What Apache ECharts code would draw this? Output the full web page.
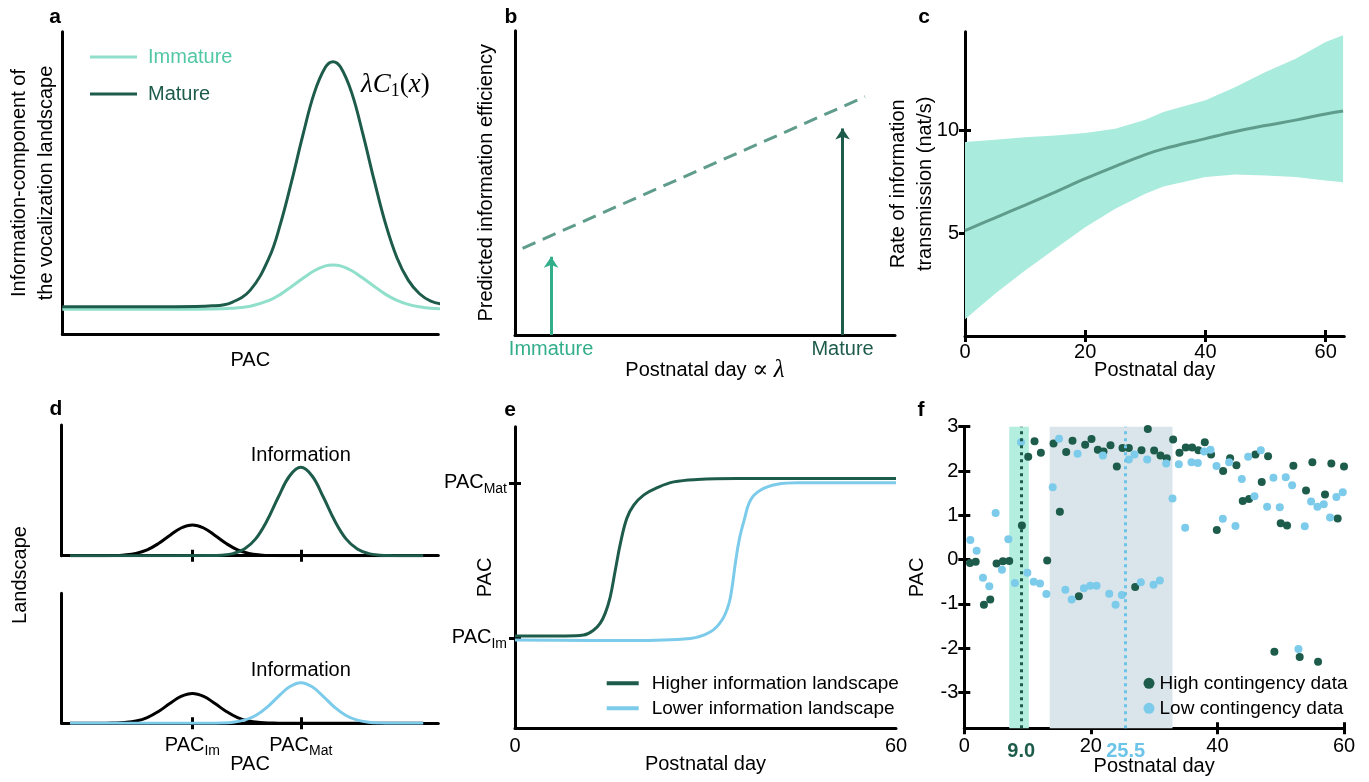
<!DOCTYPE html>
<html>
<head>
<meta charset="utf-8">
<title>Vocal development: information landscape</title>
<script src="https://cdn.jsdelivr.net/npm/echarts@6/dist/echarts.min.js"></script>
<style>
  html, body { margin: 0; padding: 0; background: #fff; }
  #main { width: 1369px; height: 782px; }
</style>
</head>
<body>
<div id="main"></div>
<script>
// ---------- data ----------
// a: information component of the landscape along PAC (arbitrary units)
const aPac      = [0, 10, 20, 30, 40, 45, 50, 55, 58, 61, 64, 67, 70, 72, 74, 77, 80, 83, 86, 89, 92, 95, 98, 102];
const aImmature = [8.3, 8.3, 8.3, 8.3, 8.35, 8.6, 9.3, 11.2, 13.2, 15.8, 18.5, 21.0, 22.6, 22.9, 22.6, 21.0, 18.5, 15.8, 13.2, 11.2, 9.9, 9.1, 8.6, 8.4];
const aMature   = [9.1, 9.1, 9.1, 9.1, 9.4, 10.5, 14.6, 25.3, 36.4, 50.6, 65.9, 79.7, 88.3, 90.1, 88.3, 79.7, 65.9, 50.6, 36.4, 25.3, 17.9, 13.4, 11.0, 9.7];

// b: predicted efficiency vs. postnatal day (schematic units)
const bDay        = [2.0, 92.1];
const bEfficiency = [28.5, 78.3];
const bStageNames = ['Immature', 'Mature'];
const bStageDay   = [9.5, 86.2];
const bStageTip   = [25.7, 67.9];

// c: rate of information transmission (nat/s)
const cDay   = [0, 5, 10, 15, 20, 25, 30, 33, 40, 45, 50, 55, 60, 62.9];
const cMean  = [5.13, 5.75, 6.37, 7.0, 7.65, 8.25, 8.82, 9.1, 9.6, 9.95, 10.24, 10.5, 10.8, 10.94];
const cUpper = [9.43, 9.55, 9.67, 9.75, 9.87, 10.08, 10.52, 10.89, 11.46, 12.11, 12.84, 13.49, 14.3, 14.63];
const cLower = [0.82, 2.05, 3.18, 4.24, 5.29, 6.19, 6.92, 7.27, 7.73, 7.86, 7.81, 7.73, 7.56, 7.48];

// d: landscapes (immature bump + information bump)
const dPacMarks   = [34.7, 63.5];
const dPacIm      = [2.2, 10.7, 13.7, 16.7, 19.7, 22.7, 25.7, 28.7, 31.7, 34.7, 37.7, 40.7, 43.7, 46.7, 49.7, 52.7, 55.7, 58.7, 96];
const dPacMat     = [2.2, 39.5, 42.5, 45.5, 48.5, 51.5, 54.5, 57.5, 60.5, 63.5, 66.5, 69.5, 72.5, 75.5, 78.5, 81.5, 84.5, 87.5, 96];
const dBaseHigh   = [0, 0, 0.1, 0.6, 1.8, 4.5, 9.3, 15.5, 21.2, 23.5, 21.2, 15.5, 9.3, 4.5, 1.8, 0.6, 0.1, 0, 0];
const dInfoHigh   = [0, 0.1, 0.4, 1.6, 5.1, 12.9, 26.7, 44.7, 61.0, 67.6, 61.0, 44.7, 26.7, 12.9, 5.1, 1.6, 0.4, 0.1, 0];
const dBaseLow    = [0, 0, 0.2, 0.6, 1.7, 4.4, 9.1, 15.2, 20.7, 23.0, 20.7, 15.2, 9.1, 4.4, 1.7, 0.6, 0.2, 0, 0];
const dInfoLow    = [0, 0, 0.2, 0.8, 2.4, 6.0, 12.3, 20.6, 28.1, 31.2, 28.1, 20.6, 12.3, 6.0, 2.4, 0.8, 0.2, 0, 0];

// e: PAC trajectories
const ePacMarks = [30, 81.4];
const eDayHigh  = [0, 8, 10.8, 12.4, 13.4, 14.2, 15.0, 15.8, 16.6, 17.6, 18.7, 20.3, 22.4, 25.0, 28.7, 35, 60];
const eHigh     = [30.6, 30.6, 30.9, 32.6, 34.8, 38.1, 43.6, 52.5, 61.3, 69.6, 74.0, 77.4, 79.8, 81.7, 82.5, 82.8, 82.8];
const eDayLow   = [0, 18.2, 27.6, 30.8, 32.6, 33.7, 34.2, 34.7, 35.3, 36.1, 37.1, 38.7, 41.3, 44.5, 60];
const eLow      = [29.3, 29.1, 29.8, 32.0, 35.9, 41.4, 47.0, 54.7, 62.4, 69.1, 75.7, 79.0, 80.9, 81.4, 81.4];

// f: observed PAC per day
const fHighDay = [0.9, 1.8, 3.1, 4.1, 5.1, 6.1, 7.1, 9.1, 10.1, 11.1, 12.1, 13.1, 14.1, 15.1, 16.1, 17.1, 18.1, 19.1, 20.1, 21.1, 22, 23.1, 24.1, 25, 26, 27, 28, 29, 30, 31, 32, 33, 34, 35, 36, 37, 38, 39, 39.9, 40.9, 42, 43, 44, 45, 46, 47, 48, 49, 50, 51, 52, 53, 54, 55, 55.9, 57, 58, 59, 60];
const fHighPac = [-0.08, -0.05, -1.02, -0.9, -0.09, -0.04, -0.03, 0.77, 2.32, 2.67, 2.41, -0.02, 2.62, 1.08, 2.43, 2.68, -0.83, 2.59, 2.72, 2.48, 2.44, 2.58, 2.1, 2.52, 2.52, -0.62, 2.47, 2.95, 2.46, 2.35, 2.29, 2.71, 2.41, 2.53, 2.53, 2.47, 2.65, 2.37, 0.67, 2.0, 2.29, 2.13, 1.32, 1.37, 2.37, 1.75, 2.33, -2.08, 0.82, 0.77, 2.12, -2.2, 1.56, 2.2, -2.31, 1.47, 2.17, 0.93, 2.1];
const fLowDay  = [0.95, 1.95, 2.95, 3.95, 4.95, 5.95, 6.96, 8, 8.96, 9.96, 10.96, 11.96, 12.97, 13.97, 14.97, 15.97, 16.97, 17.9, 18.9, 19.9, 20.9, 21.9, 22.9, 23.9, 24.9, 26, 26.9, 27.9, 28.9, 29.9, 30.9, 31.9, 32.9, 33.9, 34.9, 35.9, 36.9, 37.9, 38.9, 39.85, 40.85, 41.85, 42.85, 43.85, 44.85, 45.85, 46.85, 47.85, 48.85, 49.85, 50.8, 51.8, 52.8, 53.8, 54.8, 55.8, 56.8, 57.8, 58.8, 59.8];
const fLowPac  = [0.44, 0.2, -0.41, -0.6, 1.05, -0.23, 0.46, -0.53, 2.65, -0.3, -0.5, -0.54, -0.78, 1.63, 2.73, -0.68, -0.9, 2.39, -0.65, -0.59, -0.59, 2.35, -0.77, -1.02, -0.8, 2.26, 2.37, -0.51, 2.26, -0.57, -0.47, 2.17, 1.38, 2.15, 0.72, 2.2, 2.18, 2.44, 2.48, 2.11, 0.92, 2.2, 0.76, 1.82, 2.32, 1.43, 2.47, 1.19, 1.85, 1.18, 1.86, 1.68, -2.02, 0.75, 1.31, 1.19, 1.25, 0.95, 1.41, 1.52];
const fHighWindow = [7.1, 10.2];
const fLowWindow  = [13.5, 32.9];
const fOnsets     = [9.0, 25.5];
const fTicksX     = [0, 20, 40, 60];
const fTicksY     = [-3, -2, -1, 0, 1, 2, 3];

// ---------- styles ----------
const FONT = '"Liberation Sans", Arial, Helvetica, sans-serif';
const SERIF = '"Liberation Serif", "DejaVu Serif", serif';
const DARK = '#1d5b4b';
const LIGHT = '#7ccbea';
const LIGHT_TEXT = '#6cc4e8';
const TEAL_LINE = '#8fdfcb';
const TEAL_TEXT = '#52c7a5';
const TEAL_MID = '#33ae8b';
const MEAN = '#5f9c8c';
const BAND = '#a9ebdc';
const baseText = { color: '#000', fontSize: 20, fontFamily: FONT };
const zip = (xs, ys) => xs.map((x, i) => [x, ys[i]]);

const grid = [], xAxis = [], yAxis = [], series = [], graphic = [], legend = [];

function gridAt(left, top, right, bottom) {
  grid.push({ left, top, width: right - left, height: bottom - top, containLabel: false, outerBoundsMode: 'none' });
  return grid.length - 1;
}
function axis(list, gi, opt) {
  list.push(Object.assign({
    type: 'value', gridIndex: gi,
    splitLine: { show: false },
    axisLine: { show: true, onZero: false, lineStyle: { color: '#000', width: 3 } },
    axisTick: { show: false },
    axisLabel: { show: false },
    nameMoveOverlap: false,
    nameTextStyle: Object.assign({}, baseText)
  }, opt));
  return list.length - 1;
}
function ticks(vals, inside) {
  return { show: true, inside, length: 6, customValues: vals, lineStyle: { color: '#000', width: 3 } };
}
function labels(vals, extra) {
  return Object.assign({ show: true, customValues: vals }, baseText, extra || {});
}
// second axis on the same grid carrying the inward half of ticks that cross the axis line
function innerTicks(list, gi, min, max, pos, vals, extra) {
  return axis(list, gi, Object.assign({ min, max, position: pos, axisLine: { show: false, onZero: false },
    axisTick: ticks(vals, true) }, extra || {}));
}
function letter(ch, x, y) {
  graphic.push({ type: 'text', x, y, silent: true,
    style: { text: ch, fill: '#000', fontSize: 21, fontWeight: 'bold', fontFamily: FONT, align: 'center', verticalAlign: 'middle' } });
}
const subRich = {
  b: { fontSize: 20, fontFamily: FONT, color: '#000', lineHeight: 26 },
  s: { fontSize: 14, fontFamily: FONT, color: '#000', verticalAlign: 'bottom' }
};

// ---------- a ----------
const gA = gridAt(62.3, 31.7, 438.3, 334.3);
const xa = axis(xAxis, gA, { min: 0, max: 100, position: 'bottom', name: 'PAC', nameLocation: 'middle', nameGap: 16 });
const ya = axis(yAxis, gA, { min: 0, max: 100, position: 'left',
  name: 'Information-component of\nthe vocalization landscape', nameLocation: 'middle', nameGap: 2,
  nameTextStyle: Object.assign({}, baseText, { lineHeight: 27 }) });
series.push({ name: 'Immature', type: 'line', xAxisIndex: xa, yAxisIndex: ya, data: zip(aPac, aImmature),
  smooth: 0.4, symbol: 'none', clip: false, lineStyle: { width: 3, color: TEAL_LINE }, itemStyle: { color: TEAL_LINE }, z: 3 });
series.push({ name: 'Mature', type: 'line', xAxisIndex: xa, yAxisIndex: ya, data: zip(aPac, aMature),
  smooth: 0.4, symbol: 'none', clip: false, lineStyle: { width: 3, color: DARK }, itemStyle: { color: DARK }, z: 4 });
legend.push({ orient: 'vertical', left: 90, top: 47, padding: 0, itemGap: 17, icon: 'rect', itemWidth: 47, itemHeight: 3,
  selectedMode: false, textStyle: Object.assign({}, baseText, { lineHeight: 20, padding: [0, 0, 0, 6] }),
  data: [{ name: 'Immature', textStyle: { color: TEAL_TEXT } }, { name: 'Mature', textStyle: { color: DARK } }] });
graphic.push({ type: 'text', x: 361, y: 70, silent: true, style: {
  text: '{i|λC}{s|1}{r|(}{i|x}{r|)}',
  rich: {
    i: { fontFamily: SERIF, fontStyle: 'italic', fontSize: 27, color: '#000', lineHeight: 30 },
    s: { fontFamily: SERIF, fontSize: 18, color: '#000', verticalAlign: 'bottom' },
    r: { fontFamily: SERIF, fontSize: 27, color: '#000', lineHeight: 30 }
  } } });
letter('a', 55, 17);

// ---------- b ----------
const gB = gridAt(515, 30.7, 895, 335);
const xb = axis(xAxis, gB, { min: 0, max: 100, position: 'bottom',
  name: 'Postnatal day {m|∝} {l|λ}', nameLocation: 'middle', nameGap: 23,
  nameTextStyle: Object.assign({}, baseText, { rich: {
    m: { fontFamily: SERIF, fontSize: 24, color: '#000' },
    l: { fontFamily: SERIF, fontStyle: 'italic', fontSize: 25, color: '#000' } } }),
  axisLabel: labels(bStageDay, { margin: 4,
    formatter: v => (v === bStageDay[0] ? '{im|' : '{ma|') + bStageNames[bStageDay.indexOf(v)] + '}',
    rich: { im: Object.assign({}, baseText, { color: TEAL_MID }), ma: Object.assign({}, baseText, { color: DARK }) } }) });
const yb = axis(yAxis, gB, { min: 0, max: 100, position: 'left',
  name: 'Predicted information efficiency', nameLocation: 'middle', nameGap: 19 });
series.push({ name: 'Predicted efficiency', type: 'line', xAxisIndex: xb, yAxisIndex: yb, data: zip(bDay, bEfficiency),
  symbol: 'none', lineStyle: { width: 3, color: MEAN, type: [14, 8] }, z: 3 });
bStageNames.forEach((nm, i) => {
  series.push({ name: nm + ' stage', type: 'lines', coordinateSystem: 'cartesian2d', xAxisIndex: xb, yAxisIndex: yb,
    symbol: ['none', 'arrow'], symbolSize: 11, silent: true, z: 3,
    lineStyle: { color: i === 0 ? TEAL_MID : DARK, width: 3, opacity: 1 },
    data: [{ coords: [[bStageDay[i], 0], [bStageDay[i], bStageTip[i]]] }] });
});
letter('b', 511, 17);

// ---------- c ----------
const gC = gridAt(965, 31.7, 1344.3, 336);
const xc = axis(xAxis, gC, { min: 0, max: 63.1, position: 'bottom', name: 'Postnatal day', nameLocation: 'middle', nameGap: 24,
  axisTick: ticks(fTicksX, false), axisLabel: labels(fTicksX, { margin: 6 }) });
innerTicks(xAxis, gC, 0, 63.1, 'bottom', fTicksX);
const yc = axis(yAxis, gC, { min: 0, max: 14.8, position: 'left',
  name: 'Rate of information\ntransmission (nat/s)', nameLocation: 'middle', nameGap: 26,
  nameTextStyle: Object.assign({}, baseText, { lineHeight: 27 }),
  axisTick: ticks([5, 10], false), axisLabel: labels([5, 10], { margin: 6 }) });
innerTicks(yAxis, gC, 0, 14.8, 'left', [5, 10]);
// confidence band: one polygon through the upper edge and back along the lower edge
series.push({ name: 'CI band', type: 'custom', xAxisIndex: xc, yAxisIndex: yc, z: 1, silent: true,
  data: cDay.map((d, i) => [d, cLower[i], cUpper[i]]),
  encode: { x: 0, y: [1, 2] },
  renderItem: (params, api) => {
    if (params.dataIndex !== 0) return null;
    const top = cDay.map((d, i) => api.coord([d, cUpper[i]]));
    const bottom = cDay.map((d, i) => api.coord([d, cLower[i]])).reverse();
    return { type: 'polygon', shape: { points: top.concat(bottom) }, style: { fill: BAND } };
  } });
series.push({ name: 'Rate', type: 'line', xAxisIndex: xc, yAxisIndex: yc, data: zip(cDay, cMean),
  smooth: 0.4, symbol: 'none', lineStyle: { width: 3, color: MEAN }, z: 3 });
letter('c', 924, 17);

// ---------- d ----------
function landscape(top, bottom, base, info, infoColor, withLabels) {
  const g = gridAt(61.7, top, 438.3, bottom);
  const xOpt = { min: 0, max: 100, position: 'bottom', axisTick: ticks(dPacMarks, false) };
  if (withLabels) {
    Object.assign(xOpt, { name: 'PAC', nameLocation: 'middle', nameGap: 31,
      axisLabel: labels(dPacMarks, { margin: 9, formatter: v => '{b|PAC}{s|' + (v === dPacMarks[0] ? 'Im' : 'Mat') + '}', rich: subRich }) });
  }
  const x = axis(xAxis, g, xOpt);
  innerTicks(xAxis, g, 0, 100, 'bottom', dPacMarks);
  const y = axis(yAxis, g, { min: 0, max: 100, position: 'left' });
  series.push({ name: 'Landscape ' + top, type: 'line', xAxisIndex: x, yAxisIndex: y, data: zip(dPacIm, base),
    smooth: 0.4, symbol: 'none', lineStyle: { width: 3, color: '#000' }, z: 3 });
  const peak = info.indexOf(Math.max(...info));
  series.push({ name: 'Information ' + top, type: 'line', xAxisIndex: x, yAxisIndex: y, data: zip(dPacMat, info),
    smooth: 0.4, symbol: 'none', lineStyle: { width: 3, color: infoColor }, z: 4,
    markPoint: { symbol: 'circle', symbolSize: 0, silent: true,
      label: Object.assign({ show: true, position: 'top', distance: 2, formatter: 'Information' }, baseText),
      data: [{ coord: [dPacMat[peak], info[peak]] }] } });
}
landscape(425, 555.7, dBaseHigh, dInfoHigh, DARK, false);
landscape(593.3, 723.3, dBaseLow, dInfoLow, LIGHT, true);
graphic.push({ type: 'text', x: 20, y: 575, rotation: Math.PI / 2, silent: true,
  style: { text: 'Landscape', fill: '#000', fontSize: 20, fontFamily: FONT, align: 'center', verticalAlign: 'middle' } });
letter('d', 56, 409);

// ---------- e ----------
const gE = gridAt(515, 426.7, 896, 728.3);
const xe = axis(xAxis, gE, { min: 0, max: 60, position: 'bottom', name: 'Postnatal day', nameLocation: 'middle', nameGap: 26,
  axisLabel: labels([0, 60], { margin: 8 }) });
const ye = axis(yAxis, gE, { min: 0, max: 100, position: 'left', name: 'PAC', nameLocation: 'middle', nameGap: 20,
  axisTick: ticks(ePacMarks, false),
  axisLabel: labels(ePacMarks, { margin: 8, formatter: v => '{b|PAC}{s|' + (v === ePacMarks[0] ? 'Im' : 'Mat') + '}', rich: subRich }) });
innerTicks(yAxis, gE, 0, 100, 'left', ePacMarks);
series.push({ name: 'Higher information landscape', type: 'line', xAxisIndex: xe, yAxisIndex: ye, data: zip(eDayHigh, eHigh),
  smooth: 0.4, symbol: 'none', lineStyle: { width: 3, color: DARK }, itemStyle: { color: DARK }, z: 3 });
series.push({ name: 'Lower information landscape', type: 'line', xAxisIndex: xe, yAxisIndex: ye, data: zip(eDayLow, eLow),
  smooth: 0.4, symbol: 'none', lineStyle: { width: 3, color: LIGHT }, itemStyle: { color: LIGHT }, z: 3 });
legend.push({ orient: 'vertical', left: 606.7, top: 673.3, padding: 0, itemGap: 5, icon: 'rect', itemWidth: 32, itemHeight: 4,
  selectedMode: false, textStyle: Object.assign({}, baseText, { fontSize: 19, lineHeight: 20, padding: [0, 0, 0, 8] }),
  data: ['Higher information landscape', 'Lower information landscape'] });
letter('e', 510, 410);

// ---------- f ----------
const gF = gridAt(964.3, 426.7, 1344, 728.3);
const fMin = -3.81;
const xf = axis(xAxis, gF, { min: 0, max: 60, position: 'bottom', name: 'Postnatal day', nameLocation: 'middle', nameGap: 28,
  axisTick: ticks(fTicksX, false), axisLabel: labels(fTicksX, { margin: 8 }) });
innerTicks(xAxis, gF, 0, 60, 'bottom', fTicksX, {
  axisLabel: labels(fOnsets, { margin: 13, formatter: v => (v === fOnsets[0] ? '{h|' : '{l|') + v.toFixed(1) + '}',
    rich: { h: Object.assign({}, baseText, { color: DARK, fontWeight: 'bold' }),
            l: Object.assign({}, baseText, { color: LIGHT_TEXT, fontWeight: 'bold' }) } }) });
const yf = axis(yAxis, gF, { min: fMin, max: 3, position: 'left', name: 'PAC', nameLocation: 'middle', nameGap: 37,
  axisTick: ticks(fTicksY, false), axisLabel: labels(fTicksY, { margin: 6 }) });
innerTicks(yAxis, gF, fMin, 3, 'left', fTicksY);
series.push({ name: 'Onset windows', type: 'line', xAxisIndex: xf, yAxisIndex: yf, data: [], z: 1, silent: true,
  markArea: { silent: true, data: [
    [{ xAxis: fHighWindow[0], yAxis: 3, itemStyle: { color: '#b4eedf' } }, { xAxis: fHighWindow[1], yAxis: fMin }],
    [{ xAxis: fLowWindow[0], yAxis: 3, itemStyle: { color: '#d9e5eb' } }, { xAxis: fLowWindow[1], yAxis: fMin }]
  ] } });
series.push({ name: 'High contingency data', type: 'scatter', xAxisIndex: xf, yAxisIndex: yf, data: zip(fHighDay, fHighPac),
  symbolSize: 8, itemStyle: { color: DARK, opacity: 1 }, z: 3 });
series.push({ name: 'Low contingency data', type: 'scatter', xAxisIndex: xf, yAxisIndex: yf, data: zip(fLowDay, fLowPac),
  symbolSize: 8, itemStyle: { color: LIGHT, opacity: 1 }, z: 3 });
series.push({ name: 'Onsets', type: 'line', xAxisIndex: xf, yAxisIndex: yf, data: [], z: 5, silent: true,
  markLine: { silent: true, symbol: ['none', 'none'], label: { show: false }, data: [
    { xAxis: fOnsets[0], lineStyle: { color: DARK, width: 3, type: [3, 4] } },
    { xAxis: fOnsets[1], lineStyle: { color: LIGHT_TEXT, width: 3, type: [3, 4] } }
  ] } });
legend.push({ orient: 'vertical', left: 1143.5, top: 673.3, padding: 0, itemGap: 5, icon: 'circle', itemWidth: 11, itemHeight: 11,
  selectedMode: false, textStyle: Object.assign({}, baseText, { fontSize: 19, lineHeight: 20 }),
  data: ['High contingency data', 'Low contingency data'] });
letter('f', 921, 410);

// ---------- render ----------
const chart = echarts.init(document.getElementById('main'), null, { renderer: 'canvas' });
chart.setOption({
  animation: false,
  backgroundColor: '#fff',
  textStyle: { fontFamily: FONT },
  grid, xAxis, yAxis, series, legend, graphic
});
</script>
</body>
</html>
